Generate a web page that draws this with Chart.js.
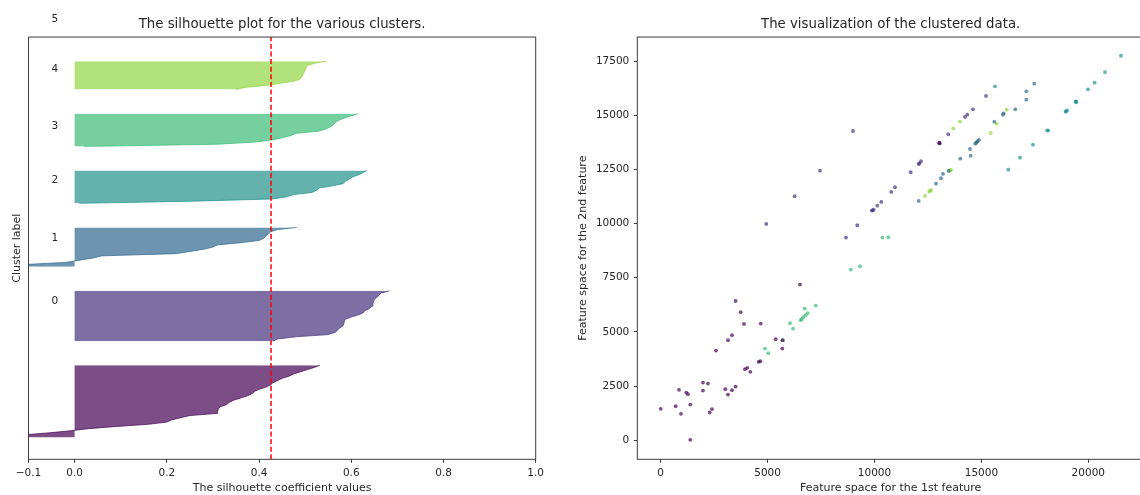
<!DOCTYPE html>
<html>
<head>
<meta charset="utf-8">
<title>Silhouette analysis</title>
<script src="https://cdn.jsdelivr.net/npm/chart.js@4.4.1/dist/chart.umd.min.js"></script>
<style>
    html, body { margin: 0; padding: 0; background: #fff; }
    body { width: 1140px; height: 495px; overflow: hidden; position: relative; }
    .panel { position: absolute; top: 0; }
    #silhouettePanel { left: 0; }
    #scatterPanel { left: 570px; }
</style>
</head>
<body>
<div id="silhouettePanel" class="panel"><canvas id="silhouetteChart" width="560" height="495"></canvas></div>
<div id="scatterPanel" class="panel"><canvas id="scatterChart" width="600" height="495"></canvas></div>
<script>
// silhouette value of every sample, sorted inside each cluster
const silhouette0 = [-0.22, -0.12, -0.06, -0.01, 0.03, 0.09, 0.16, 0.20, 0.21, 0.23, 0.25, 0.31,
    0.31, 0.312, 0.315, 0.33, 0.335, 0.345, 0.36, 0.375, 0.385, 0.39, 0.40, 0.415, 0.425, 0.43,
    0.44, 0.45, 0.465, 0.475, 0.49, 0.505, 0.52, 0.532];
const silhouette1 = [0.43, 0.44, 0.48, 0.55, 0.565, 0.57, 0.575, 0.582, 0.584, 0.585, 0.587, 0.60,
    0.615, 0.626, 0.63, 0.64, 0.645, 0.647, 0.648, 0.65, 0.655, 0.66, 0.665, 0.683];
const silhouette2 = [-0.15, -0.11, -0.02, 0.01, 0.04, 0.06, 0.22, 0.25, 0.28, 0.30, 0.31, 0.36,
    0.40, 0.41, 0.415, 0.42, 0.425, 0.44, 0.482];
const silhouette3 = [0.01, 0.26, 0.43, 0.46, 0.475, 0.515, 0.525, 0.53, 0.56, 0.582, 0.587, 0.595,
    0.603, 0.615, 0.625, 0.634];
const silhouette4 = [0.02, 0.31, 0.39, 0.43, 0.45, 0.47, 0.48, 0.53, 0.545, 0.555, 0.562, 0.565,
    0.573, 0.585, 0.60, 0.615];
const silhouette5 = [0.35, 0.37, 0.42, 0.45, 0.48, 0.49, 0.493, 0.496, 0.498, 0.50, 0.502, 0.505,
    0.52, 0.547];
const silhouetteAvg = 0.426;
const clusterNames = ['0', '1', '2', '3', '4', '5'];

// samples in feature space, one list per cluster
const points0 = [[6515, 7183], [3503, 6431], [3741, 5909], [3896, 5369], [4677, 5383], [3335, 4848],
    [3148, 4617], [2586, 4138], [5379, 4664], [5706, 4617], [5687, 4230], [4580, 3620], [4660, 3650],
    [4050, 3340], [3943, 3280], [4191, 3155], [1978, 2662], [2212, 2616], [3021, 2357], [3503, 2477],
    [3335, 2311], [3148, 2108], [856, 2325], [1197, 2200], [1277, 2127], [1978, 2293], [1384, 1647],
    [702, 1573], [0, 1448], [949, 1218], [2399, 1435], [2292, 1278], [1384, 18], [13030, 13719]];
const points1 = [[7451, 12442], [6267, 11261], [4939, 9983], [8667, 9351], [9195, 9922], [9883, 10597],
    [9961, 10642], [10131, 10827], [10318, 10997], [10786, 11458], [10959, 11675], [11692, 12367],
    [12067, 12750], [12174, 12875], [13030, 13719], [13451, 14120], [14232, 14919], [14340, 15025],
    [14606, 15274], [15214, 15887], [8994, 14273], [13060, 13700], [12100, 12780], [9900, 10610]];
const points2 = [[12067, 11043], [12876, 11842], [13110, 12091], [13203, 12289], [14012, 12995],
    [14499, 13133], [14466, 13442], [14714, 13687], [14826, 13798], [14887, 13858], [15603, 14702],
    [16010, 15025], [16043, 15089], [16585, 15274], [17100, 15716], [17100, 16103], [17474, 16457],
    [13470, 12430], [14760, 13730]];
const points3 = [[15635, 16334], [16258, 12488], [16805, 13041], [17413, 13641], [18082, 14305],
    [18120, 14290], [18942, 15163], [19003, 15228], [19410, 15624], [19440, 15600], [19985, 16196],
    [20298, 16501], [20780, 16994], [21529, 17746], [18960, 15180], [19420, 15640]];
const points4 = [[7249, 6214], [6735, 6075], [6875, 5863], [6782, 5771], [6669, 5679], [6595, 5586],
    [6548, 5540], [6047, 5402], [6188, 5153], [5706, 4617], [4878, 4230], [5032, 4018], [10365, 9351],
    [10646, 9369], [8886, 7876], [9321, 8030]];
const points5 = [[12362, 11274], [12563, 11474], [12642, 11551], [13498, 12442], [13577, 12473],
    [13685, 14397], [13998, 14705], [15434, 14180], [15715, 14610], [16183, 15255], [14780, 13760],
    [13540, 12460], [12600, 11510], [14760, 13740]];

const silhouetteTicks = [-0.1, 0, 0.2, 0.4, 0.6, 0.8, 1.0];
const featureXTicks = [0, 5000, 10000, 15000, 20000];
const featureYTicks = [0, 2500, 5000, 7500, 10000, 12500, 15000, 17500];
const featureXRange = [-1094, 22605];
const featureYRange = [-881, 18608];

// viridis sampled at i / 6, alpha 0.7
const clusterColors = [
    'rgba(68, 1, 84, 0.7)',
    'rgba(70, 50, 126, 0.7)',
    'rgba(49, 104, 142, 0.7)',
    'rgba(33, 145, 140, 0.7)',
    'rgba(58, 186, 118, 0.7)',
    'rgba(145, 214, 66, 0.7)'
];

const INK = '#262626';
const SPINE = '#3c3c3c';
const FONT = '"DejaVu Sans", sans-serif';

Chart.defaults.font.family = FONT;
Chart.defaults.color = INK;
Chart.defaults.animation = false;

const minusSign = s => s.replace('-', '\u2212');

// stack the clusters with a gap of 10 samples, like the usual silhouette layout
const silhouetteGroups = [silhouette0, silhouette1, silhouette2, silhouette3, silhouette4, silhouette5];
let yLower = 10;
const bands = silhouetteGroups.map(values => {
    const band = { start: yLower, values: values };
    yLower += values.length + 10;
    band.labelY = yLower + values.length / 2;
    return band;
});
const yUpper = yLower;

const boxFrame = {
    id: 'boxFrame',
    afterDatasetsDraw(chart) {
        const { ctx, chartArea: a } = chart;
        ctx.save();
        ctx.strokeStyle = SPINE;
        ctx.lineWidth = 1;
        ctx.strokeRect(a.left, a.top, a.right - a.left, a.bottom - a.top);
        ctx.restore();
    }
};

const clusterLabels = {
    id: 'clusterLabels',
    afterDatasetsDraw(chart) {
        const { ctx, scales } = chart;
        ctx.save();
        ctx.font = '10.5px ' + FONT;
        ctx.fillStyle = INK;
        ctx.textAlign = 'left';
        ctx.textBaseline = 'alphabetic';
        bands.forEach((band, i) => {
            ctx.fillText(clusterNames[i], scales.x.getPixelForValue(-0.05), scales.y.getPixelForValue(band.labelY));
        });
        ctx.restore();
    }
};

function titleOptions(text) {
    return {
        display: true,
        text: text,
        fullSize: false,
        color: INK,
        font: { size: 13.3, weight: 'normal' },
        padding: { top: 17, bottom: 4.1 }
    };
}

function axisTitle(text, pad) {
    return { display: true, text: text, color: INK, font: { size: 11 }, padding: pad };
}

const tickGrid = { drawOnChartArea: false, drawTicks: true, tickLength: 3.5, color: SPINE };

const bandDatasets = bands.map((band, i) => ({
    data: band.values.map((v, k) => ({ x: v, y: band.start + k })),
    backgroundColor: clusterColors[i],
    borderColor: clusterColors[i],
    borderWidth: 1,
    pointRadius: 0,
    fill: 'origin'
}));

new Chart(document.getElementById('silhouetteChart'), {
    type: 'line',
    data: {
        datasets: [{
            data: [{ x: silhouetteAvg, y: 0 }, { x: silhouetteAvg, y: yUpper }],
            borderColor: '#ff0000',
            borderWidth: 1.5,
            borderDash: [5, 2.6],
            pointRadius: 0,
            fill: false
        }].concat(bandDatasets)
    },
    options: {
        responsive: false,
        indexAxis: 'y',
        layout: { padding: { left: 0, right: 24.3, top: 0, bottom: 0 } },
        plugins: {
            legend: { display: false },
            tooltip: { enabled: false },
            title: titleOptions('The silhouette plot for the various clusters.')
        },
        scales: {
            x: {
                type: 'linear',
                min: -0.1,
                max: 1,
                afterBuildTicks: scale => { scale.ticks = silhouetteTicks.map(v => ({ value: v })); },
                afterFit: scale => { scale.height = 495 - 459.3; },
                grid: tickGrid,
                border: { display: false },
                ticks: { padding: 4.5, autoSkip: false, maxRotation: 0, font: { size: 10.5 }, color: INK,
                    callback: v => minusSign(Number(v).toFixed(1)) },
                title: axisTitle('The silhouette coefficient values', { top: 0, bottom: 0.7 })
            },
            y: {
                type: 'linear',
                min: 0,
                max: yUpper,
                afterFit: scale => { scale.width = 28.5; },
                grid: { display: false },
                border: { display: false },
                ticks: { display: false },
                title: axisTitle('Cluster label', { top: 10.5, bottom: 0 })
            }
        }
    },
    plugins: [boxFrame, clusterLabels]
});

const pointGroups = [points0, points1, points2, points3, points4, points5];

new Chart(document.getElementById('scatterChart'), {
    type: 'scatter',
    data: {
        datasets: pointGroups.map((pts, i) => ({
            data: pts.map(p => ({ x: p[0], y: p[1] })),
            backgroundColor: clusterColors[i],
            borderWidth: 0,
            pointRadius: 1.9
        }))
    },
    options: {
        responsive: false,
        layout: { padding: { left: 0, right: 26, top: 0, bottom: 0 } },
        plugins: {
            legend: { display: false },
            tooltip: { enabled: false },
            title: titleOptions('The visualization of the clustered data.')
        },
        scales: {
            x: {
                type: 'linear',
                min: featureXRange[0],
                max: featureXRange[1],
                afterBuildTicks: scale => { scale.ticks = featureXTicks.map(v => ({ value: v })); },
                afterFit: scale => { scale.height = 495 - 459.3; },
                grid: tickGrid,
                border: { display: false },
                ticks: { padding: 4.5, autoSkip: false, maxRotation: 0, font: { size: 10.5 }, color: INK,
                    callback: v => String(v) },
                title: axisTitle('Feature space for the 1st feature', { top: 0, bottom: 0.7 })
            },
            y: {
                type: 'linear',
                min: featureYRange[0],
                max: featureYRange[1],
                afterBuildTicks: scale => { scale.ticks = featureYTicks.map(v => ({ value: v })); },
                afterFit: scale => { scale.width = 67.3; },
                grid: tickGrid,
                border: { display: false },
                ticks: { padding: 4.5, autoSkip: false, font: { size: 10.5 }, color: INK,
                    callback: v => String(v) },
                title: axisTitle('Feature space for the 2nd feature', { top: 6.4, bottom: 0 })
            }
        }
    },
    plugins: [boxFrame]
});
</script>
</body>
</html>
